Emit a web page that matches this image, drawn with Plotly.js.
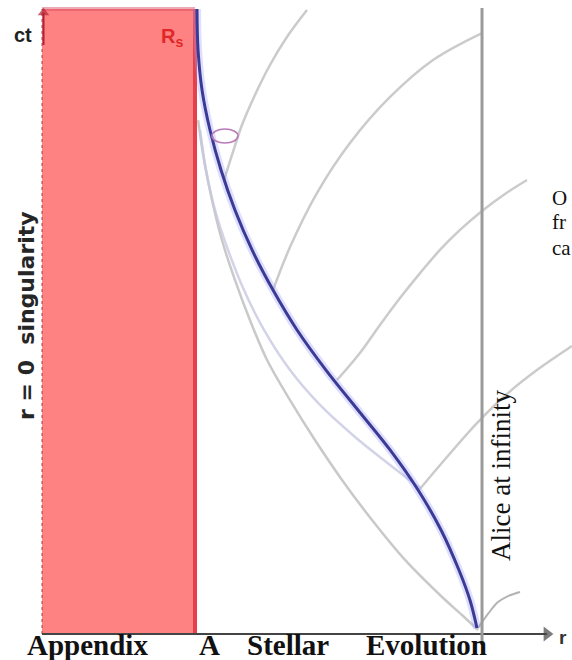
<!DOCTYPE html>
<html>
<head>
<meta charset="utf-8">
<script src="https://cdn.plot.ly/plotly-3.0.1.min.js"></script>
<style>
html,body{margin:0;padding:0;background:#fff;}
#chart{width:572px;height:660px;}
</style>
</head>
<body>
<div id="chart"></div>
<script>
// Units: r in Schwarzschild radii (r = 0 singularity, r = 1 = R_s), ct in the same units.
const singularityR = 0;
const schwarzschildR = 1;
const topCt = 4.085;
const aliceR = 2.876;
const aliceCt = [-0.072, 4.092];

// Surface of the collapsing star (blue world line)
const surfaceR  = [1.013, 1.020, 1.046, 1.098, 1.170, 1.261, 1.373, 1.510, 1.667, 1.856, 2.065, 2.275, 2.458, 2.608, 2.725, 2.797, 2.843];
const surfaceCt = [4.085, 3.817, 3.556, 3.294, 3.033, 2.771, 2.510, 2.248, 1.987, 1.725, 1.464, 1.203, 0.941, 0.680, 0.418, 0.222, 0.039];

// Faint lines below the surface
const outerR  = [1.020, 1.059, 1.111, 1.176, 1.261, 1.359, 1.471, 1.621, 1.784, 1.961, 2.157, 2.373, 2.601, 2.745, 2.850];
const outerCt = [3.359, 3.098, 2.837, 2.575, 2.314, 2.052, 1.791, 1.529, 1.268, 1.007, 0.745, 0.484, 0.255, 0.124, 0.026];
const innerR  = [1.033, 1.072, 1.131, 1.216, 1.320, 1.451, 1.621, 1.817, 2.046, 2.275, 2.471];
const innerCt = [3.294, 3.033, 2.771, 2.510, 2.248, 1.987, 1.725, 1.497, 1.288, 1.105, 0.954];

// Outgoing light rays
const ray1R  = [1.190, 1.242, 1.307, 1.392, 1.490, 1.601, 1.732];
const ray1Ct = [2.967, 3.131, 3.327, 3.523, 3.719, 3.902, 4.078];
const ray2R  = [1.510, 1.621, 1.797, 2.013, 2.275, 2.556, 2.876];
const ray2Ct = [2.248, 2.529, 2.882, 3.209, 3.510, 3.752, 3.928];
const ray3R  = [1.928, 2.078, 2.209, 2.340, 2.471, 2.601, 2.732, 2.876, 3.026, 3.170];
const ray3Ct = [1.660, 1.837, 2.020, 2.196, 2.359, 2.510, 2.641, 2.765, 2.876, 2.967];
const ray4R  = [2.464, 2.647, 2.843, 3.039, 3.235, 3.464];
const ray4Ct = [0.941, 1.157, 1.379, 1.569, 1.725, 1.882];
const ray5R  = [2.850, 2.915, 2.980, 3.046, 3.124];
const ray5Ct = [0.039, 0.131, 0.209, 0.248, 0.275];

// Light-cone marker
const coneR  = [1.111, 1.281];
const coneCt = [3.209, 3.301];

// Axis extents
const rAxisR  = [0, 3.30];
const rAxisCt = [0, 0];
const ctAxisR  = [0.01, 0.01];
const ctAxisCt = [3.85, 4.06];

const gray = 'rgba(200,200,200,0.95)';
function line(x, y, color, width) {
  return {x: x, y: y, mode: 'lines', type: 'scatter', hoverinfo: 'skip',
          line: {color: color, width: width, shape: 'spline', smoothing: 1}};
}
function axis(x, y, color, width, size, symbol) {
  return {x: x, y: y, mode: 'lines+markers', type: 'scatter', hoverinfo: 'skip',
          line: {color: color, width: width},
          marker: {symbol: ['circle', symbol], size: [0, size], color: color, line: {width: 0}}};
}

const traces = [
  axis(rAxisR, rAxisCt, '#444444', 2.2, 13, 'triangle-right'),
  axis(ctAxisR, ctAxisCt, '#b02236', 2, 10, 'triangle-up'),
  line(outerR, outerCt, 'rgba(195,195,195,0.9)', 2.5),
  line(innerR, innerCt, 'rgba(200,200,225,0.8)', 2.5),
  line(ray1R, ray1Ct, gray, 2.5),
  line(ray2R, ray2Ct, gray, 2.5),
  line(ray3R, ray3Ct, gray, 2.5),
  line(ray4R, ray4Ct, gray, 2.5),
  line(ray5R, ray5Ct, 'rgba(160,160,160,0.8)', 2),
  {x: [aliceR, aliceR], y: aliceCt, mode: 'lines', type: 'scatter', hoverinfo: 'skip',
   line: {color: '#9a9a9a', width: 3}},
  line(surfaceR, surfaceCt, 'rgba(160,160,255,0.35)', 8),
  line(surfaceR, surfaceCt, '#3b3b95', 3)
];

const shapes = [
  {type: 'rect', xref: 'x', yref: 'y', x0: singularityR, x1: schwarzschildR, y0: 0, y1: topCt,
   fillcolor: '#ff8282', line: {width: 0}, layer: 'below'},
  {type: 'line', xref: 'x', yref: 'y', x0: singularityR, x1: schwarzschildR, y0: topCt, y1: topCt,
   line: {color: 'rgba(215,70,90,0.45)', width: 4}, layer: 'below'},
  {type: 'line', xref: 'x', yref: 'y', x0: singularityR, x1: singularityR, y0: 0, y1: topCt,
   line: {color: 'rgba(170,40,60,0.6)', width: 1.5, dash: 'dot'}, layer: 'below'},
  {type: 'line', xref: 'x', yref: 'y', x0: schwarzschildR, x1: schwarzschildR, y0: 0, y1: topCt,
   line: {color: '#e5404c', width: 4}, layer: 'below'},
  {type: 'circle', xref: 'x', yref: 'y', x0: coneR[0], x1: coneR[1], y0: coneCt[0], y1: coneCt[1],
   line: {color: '#b87ab8', width: 1.5}, fillcolor: 'rgba(0,0,0,0)'}
];

const annotations = [
  {x: -0.124, y: 3.915, xref: 'x', yref: 'y', text: '<b>ct</b>', showarrow: false,
   font: {family: 'Liberation Sans, Arial, sans-serif', size: 20, color: '#222'}},
  {x: 0.85, y: 3.90, xref: 'x', yref: 'y', text: '<b>R<sub>s</sub></b>', showarrow: false,
   font: {family: 'Liberation Sans, Arial, sans-serif', size: 20, color: '#e02828'}},
  {x: 3.405, y: -0.02, xref: 'x', yref: 'y', text: '<b>r</b>', showarrow: false,
   font: {family: 'Liberation Sans, Arial, sans-serif', size: 19, color: '#333'}},
  {x: -0.105, y: 2.085, xref: 'x', yref: 'y', text: '<b>r = 0  singularity</b>', showarrow: false, textangle: -90,
   font: {family: 'DejaVu Sans, sans-serif', size: 22, color: '#262626'}},
  {x: 3.0, y: 1.039, xref: 'x', yref: 'y', text: 'Alice at infinity', showarrow: false, textangle: -90,
   font: {family: 'Liberation Serif, Times New Roman, serif', size: 27, color: '#111'}},
  {x: 3.32, y: 2.85, xref: 'x', yref: 'y', text: 'O', showarrow: false, xanchor: 'left',
   font: {family: 'Liberation Serif, serif', size: 21, color: '#111'}},
  {x: 3.32, y: 2.69, xref: 'x', yref: 'y', text: 'fr', showarrow: false, xanchor: 'left',
   font: {family: 'Liberation Serif, serif', size: 21, color: '#111'}},
  {x: 3.32, y: 2.52, xref: 'x', yref: 'y', text: 'ca', showarrow: false, xanchor: 'left',
   font: {family: 'Liberation Serif, serif', size: 21, color: '#111'}}
];

// Page heading below the figure
const headingWords = ['Appendix', 'A', 'Stellar', 'Evolution'];
const headingX = [25, 197, 245, 364];
headingWords.forEach(function (w, i) {
  annotations.push({x: headingX[i] / 572, y: 0.022, xref: 'paper', yref: 'paper', xanchor: 'left', yanchor: 'middle',
    text: '<b>' + w + '</b>', showarrow: false,
    font: {family: 'Liberation Serif, Times New Roman, serif', size: 29, color: '#111'}});
});

const layout = {
  width: 572, height: 660, autosize: false,
  margin: {l: 0, r: 0, t: 0, b: 0, pad: 0},
  paper_bgcolor: '#ffffff', plot_bgcolor: '#ffffff', showlegend: false,
  xaxis: {range: [-0.2745, 3.4641], visible: false, fixedrange: true},
  yaxis: {range: [-0.1699, 4.1438], visible: false, fixedrange: true},
  shapes: shapes, annotations: annotations
};

Plotly.newPlot('chart', traces, layout, {displayModeBar: false, staticPlot: true});
</script>
</body>
</html>
